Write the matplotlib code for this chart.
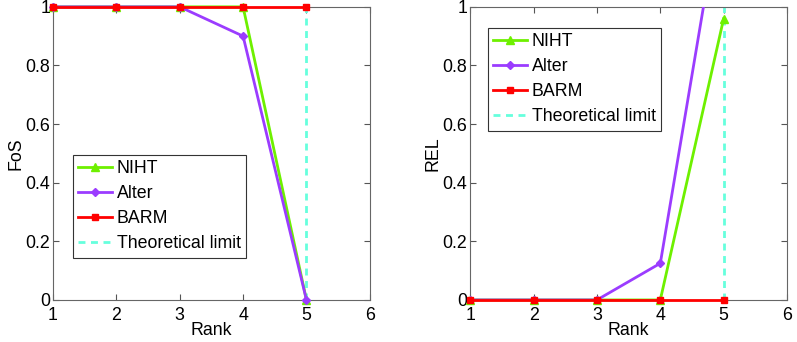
import numpy as np
import matplotlib
matplotlib.use("Agg")
import matplotlib.pyplot as plt

plt.rcParams['font.family'] = ['Liberation Sans', 'DejaVu Sans']
plt.rcParams['font.size'] = 12.8

# data
rank = [1, 2, 3, 4, 5]
fos_niht = [1, 1, 1, 1, 0]
fos_alter = [1, 1, 1, 0.9, 0]
fos_barm = [1, 1, 1, 1, 1]
rel_niht = [0, 0, 0, 0, 0.96]
rel_alter = [0, 0, 0, 0.125, 1.41]
rel_barm = [0, 0, 0, 0, 0]
limit_rank = [5, 5]
limit_y = [0, 1]

c_niht = '#6ef000'
c_alter = '#9b3cff'
c_barm = '#ff0000'
c_limit = '#66ffdd'

fig = plt.figure(figsize=(7.97, 3.42), dpi=100)
ax1 = fig.add_axes([0.0665, 0.123, 0.3975, 0.857])
ax2 = fig.add_axes([0.590, 0.123, 0.3975, 0.857])


def draw(ax, niht, alter, barm, ylab, clip_alter):
    ax.plot(rank, niht, color=c_niht, lw=2, marker='^', ms=6, label='NIHT',
            clip_on=False, zorder=3)
    ax.plot(rank, alter, color=c_alter, lw=2, marker='D', ms=4.5, label='Alter',
            clip_on=clip_alter, zorder=3)
    ax.plot(rank, barm, color=c_barm, lw=2, marker='s', ms=5, label='BARM',
            clip_on=False, zorder=4)
    ax.plot(limit_rank, limit_y, color=c_limit, lw=2, ls=(0, (2.5, 2)),
            label='Theoretical limit', clip_on=False, zorder=2)
    ax.set_xlim(1, 6)
    ax.set_ylim(0, 1)
    ax.set_xticks([1, 2, 3, 4, 5, 6])
    ax.set_yticks([0, 0.2, 0.4, 0.6, 0.8, 1])
    ax.set_yticklabels(['0', '0.2', '0.4', '0.6', '0.8', '1'])
    ax.tick_params(direction='in', top=True, right=True, length=4,
                   color='#555555')
    ax.tick_params(axis='x', pad=5)
    ax.tick_params(axis='y', pad=2)
    for s in ax.spines.values():
        s.set_color('#666666')
        s.set_linewidth(0.8)
    ax.set_xlabel('Rank', labelpad=-1)
    ax.set_ylabel(ylab, labelpad=1)


draw(ax1, fos_niht, fos_alter, fos_barm, 'FoS', False)
draw(ax2, rel_niht, rel_alter, rel_barm, 'REL', True)

leg_kw = dict(loc='upper left', fancybox=False, framealpha=1,
              edgecolor='#333333', handlelength=1.9, handletextpad=0.25,
              borderpad=0.3, labelspacing=0.45, borderaxespad=0)
l1 = ax1.legend(bbox_to_anchor=(73 / 797, 1 - 155 / 342),
                bbox_transform=fig.transFigure, **leg_kw)
l2 = ax2.legend(bbox_to_anchor=(488 / 797, 1 - 28 / 342),
                bbox_transform=fig.transFigure, **leg_kw)
for l in (l1, l2):
    l.get_frame().set_linewidth(0.8)

fig.savefig('out.png', dpi=100)
